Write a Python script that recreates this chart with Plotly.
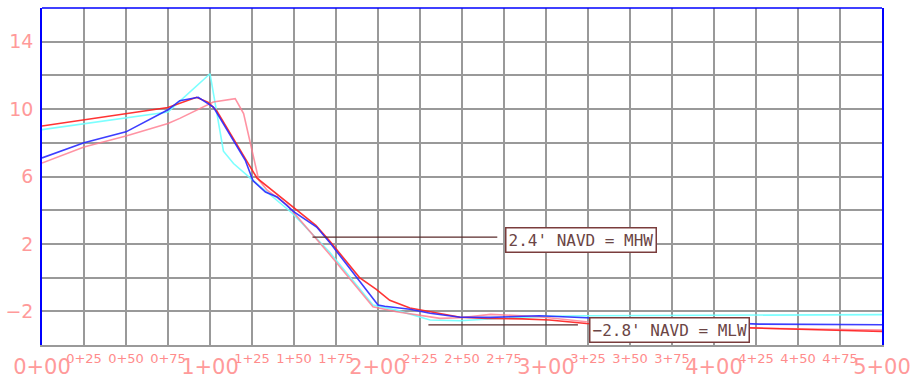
import plotly.graph_objects as go

# ---- data (station in ft, elevation in ft NAVD) ----
red_x = [0, 75, 92, 99, 104, 128, 163, 171, 189, 199, 207, 219, 249, 265, 286, 302, 324, 500]
red_y = [9.0, 10.1, 10.7, 10.4, 9.9, 5.9, 3.1, 2.2, 0.0, -0.7, -1.35, -1.8, -2.35, -2.42, -2.45, -2.52, -2.72, -3.2]

blue_x = [0, 25, 50, 75, 82, 93, 102, 121, 125.6, 133, 140, 150, 163.5, 171, 200, 204, 219, 231, 249, 267, 296, 324, 427, 500]
blue_y = [7.1, 8.0, 8.65, 9.96, 10.5, 10.7, 10.12, 6.96, 5.75, 5.08, 4.79, 3.9, 3.0, 2.12, -1.63, -1.7, -1.88, -2.12, -2.35, -2.36, -2.26, -2.38, -2.76, -2.8]

cyan_x = [0, 75, 100, 108, 114, 124, 149, 171, 197, 211, 231, 249, 266, 300, 324, 427, 500]
cyan_y = [8.78, 9.83, 12.1, 7.5, 6.77, 5.9, 3.82, 1.53, -1.63, -1.93, -2.52, -2.56, -2.46, -2.3, -2.26, -2.2, -2.2]

pink_x = [0, 25, 50, 75, 82, 102, 115, 120, 129, 134, 146, 171, 197, 211, 237, 249, 267, 296, 324, 427, 500]
pink_y = [6.8, 7.75, 8.4, 9.14, 9.45, 10.42, 10.62, 9.73, 5.8, 5.19, 4.3, 1.4, -1.73, -2.03, -2.42, -2.38, -2.18, -2.32, -2.62, -3.0, -3.12]

minor_ticks = [v for v in range(0, 501, 25)]
minor_text = ["" if v % 100 == 0 else f"{v // 100}+{v % 100:02d}" for v in minor_ticks]
major_ticks = [0, 100, 200, 300, 400, 500]
major_text = [f"{v // 100}+00" for v in major_ticks]

y_ticks = list(range(-4, 16, 2))
y_labels = {-2: "\u22122", 2: "2", 6: "6", 10: "10", 14: "14"}
y_text = [y_labels.get(v, "") for v in y_ticks]

mhw_level = 2.4
mlw_level = -2.8
mhw_text = "2.4' NAVD = MHW"
mlw_text = "\u22122.8' NAVD = MLW"

fig = go.Figure()
fig.add_trace(go.Scatter(x=cyan_x, y=cyan_y, mode="lines",
                         line=dict(color="rgba(110,255,255,0.9)", width=1.6), showlegend=False))
fig.add_trace(go.Scatter(x=pink_x, y=pink_y, mode="lines",
                         line=dict(color="rgba(255,120,140,0.8)", width=1.6), showlegend=False))
fig.add_trace(go.Scatter(x=red_x, y=red_y, mode="lines",
                         line=dict(color="rgba(255,30,30,0.9)", width=1.6), showlegend=False))
fig.add_trace(go.Scatter(x=blue_x, y=blue_y, mode="lines",
                         line=dict(color="rgba(40,40,255,0.9)", width=1.6), showlegend=False))
# reference level lines
fig.add_trace(go.Scatter(x=[161, 271], y=[mhw_level, mhw_level], mode="lines",
                         line=dict(color="#5a2a2a", width=1.2), showlegend=False))
fig.add_trace(go.Scatter(x=[230, 319], y=[mlw_level, mlw_level], mode="lines",
                         line=dict(color="#5a2a2a", width=1.2), showlegend=False))
# dummy trace to activate the second x axis
fig.add_trace(go.Scatter(x=[0], y=[None], xaxis="x2", mode="lines", showlegend=False))

fig.add_annotation(x=275.6, y=2.25, xanchor="left", yanchor="middle", text=mhw_text,
                   showarrow=False, bgcolor="white", bordercolor="#7a3c3c", borderwidth=1.5,
                   borderpad=2, font=dict(family="DejaVu Sans Mono", size=16, color="#6b4545"))
fig.add_annotation(x=325.6, y=-3.08, xanchor="left", yanchor="middle", text=mlw_text,
                   showarrow=False, bgcolor="white", bordercolor="#7a3c3c", borderwidth=1.5,
                   borderpad=2, font=dict(family="DejaVu Sans Mono", size=16, color="#6b4545"))

fig.add_shape(type="line", xref="paper", yref="paper", x0=0, x1=1, y0=1, y1=1,
              line=dict(color="blue", width=1.5))

fig.update_layout(
    width=911, height=379,
    margin=dict(l=42, r=29, t=8, b=34),
    paper_bgcolor="white", plot_bgcolor="white",
    xaxis=dict(range=[0, 500], tickmode="array", tickvals=minor_ticks, ticktext=minor_text,
               showgrid=True, gridcolor="#999999", gridwidth=1.5, zeroline=False,
               showline=True, linecolor="#999999", linewidth=1.5, ticks="",
               tickfont=dict(family="DejaVu Sans", size=13, color="#ff8c8c"),
               ticklabelstandoff=1, automargin=False),
    xaxis2=dict(range=[0, 500], overlaying="x", side="bottom", tickmode="array",
                tickvals=major_ticks, ticktext=major_text, showgrid=False, zeroline=False,
                showline=False, ticks="",
                tickfont=dict(family="DejaVu Sans", size=21, color="#ff9a9a"),
                ticklabelstandoff=7, automargin=False),
    yaxis=dict(range=[-4, 16], tickmode="array", tickvals=y_ticks, ticktext=y_text,
               showgrid=True, gridcolor="#999999", gridwidth=1.5, zeroline=False,
               showline=True, linecolor="blue", linewidth=1.5, mirror=True, ticks="",
               tickfont=dict(family="DejaVu Sans", size=19, color="#ff9a9a"),
               ticklabelstandoff=3, automargin=False),
)

fig.write_html("out.html")
